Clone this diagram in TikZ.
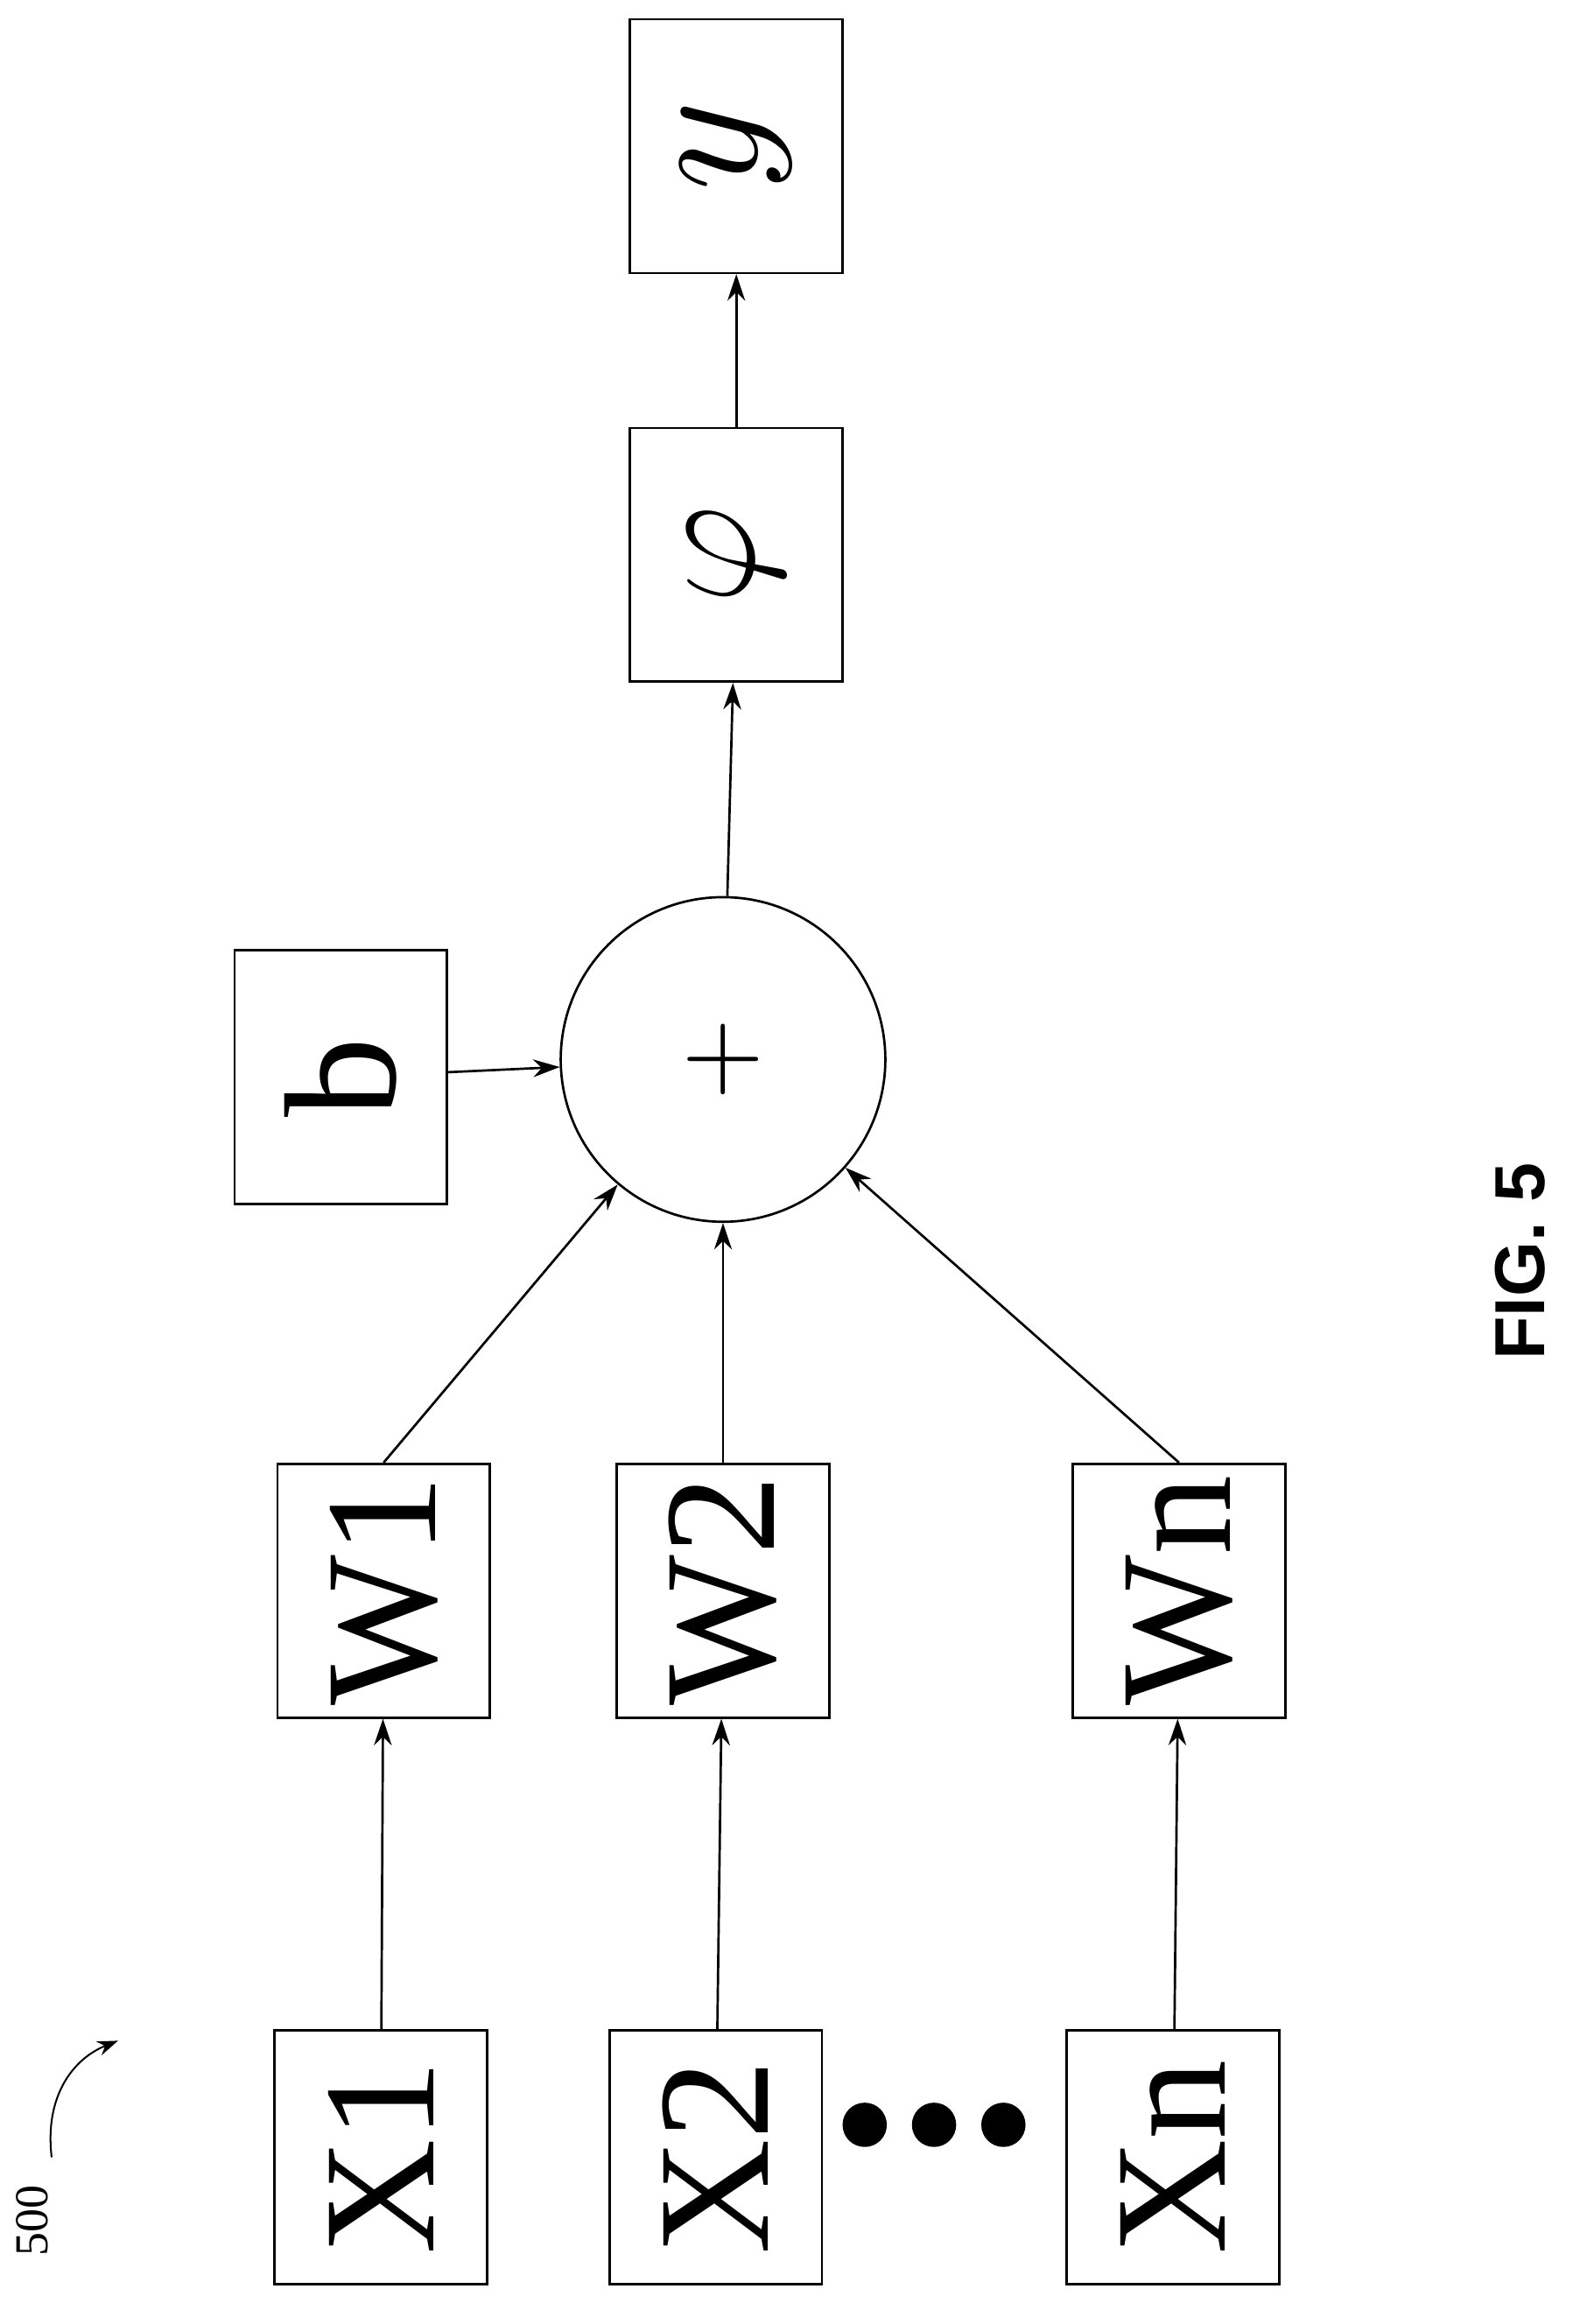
\documentclass[tikz,border=0pt]{standalone}
\usepackage{fontspec}
\setmainfont{Liberation Serif}
\newfontfamily\figfont{Liberation Sans}
\usetikzlibrary{arrows.meta}
\tikzset{every picture/.style={line width=0.8pt}}
\tikzset{
  blk/.style={draw, minimum width=72pt, minimum height=86pt, inner sep=0pt, font=\fontsize{54}{54}\selectfont},
  arr/.style={-{Stealth[length=9pt,width=6pt]}}
}
\begin{document}
\begin{tikzpicture}[x=0.5pt,y=-0.5pt]
\useasboundingbox (0,0) rectangle (1075,1575);

% inputs
\node[blk] (X1) at (258,1462) {\rotatebox{90}{X1}};
\node[blk] (X2) at (485,1462) {\rotatebox{90}{X2}};
\node[blk] (Xn) at (795,1462) {\rotatebox{90}{Xn}};
\foreach \i in {586,633,680} \fill (\i,1440) circle (15);

% weights
\node[blk] (W1) at (260,1078) {\rotatebox{90}{W1}};
\node[blk] (W2) at (490,1078) {\rotatebox{90}{W2}};
\node[blk] (Wn) at (799,1078) {\rotatebox{90}{Wn}};

% bias and sum
\node[blk] (b) at (231,730) {\rotatebox{90}{b}};
\node[draw, circle, minimum size=110pt, inner sep=0pt] (sum) at (490,718) {\rotatebox{90}{\scalebox{3.6}{$+$}}};

% activation and output
\node[blk] (phi) at (499,376) {\rotatebox{90}{\scalebox{2.1}{$\varphi$}}};
\node[blk] (out) at (499,99) {\rotatebox{90}{\scalebox{2.4}{$y$}}};

\draw[arr] (X1) -- (W1);
\draw[arr] (X2) -- (W2);
\draw[arr] (Xn) -- (Wn);
\draw[arr] (W1.north) -- (sum);
\draw[arr] (W2.north) -- (sum);
\draw[arr] (Wn.north) -- (sum);
\draw[arr] (b) -- (sum);
\draw[arr] (sum) -- (phi);
\draw[arr] (phi) -- (out);

% reference label
\node[font=\fontsize{16}{16}\selectfont, rotate=90] (lbl) at (22,1505) {500};
\coordinate (tip) at (80,1383);
\draw[-{Stealth[length=7pt,width=5pt]}, line width=0.6pt] (35,1462) .. controls (30,1420) and (50,1395) .. (tip);

\node[font=\figfont\bfseries\fontsize{24}{24}\selectfont, rotate=90] (fig) at (1030,855) {FIG. 5};
\end{tikzpicture}
\end{document}
